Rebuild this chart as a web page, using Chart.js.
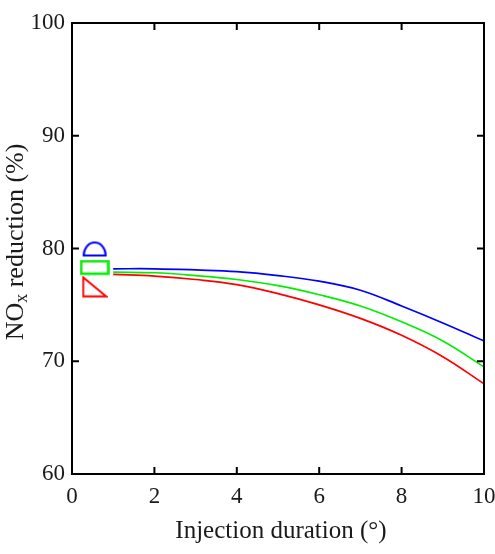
<!DOCTYPE html>
<html>
<head>
<meta charset="utf-8">
<script src="https://cdn.jsdelivr.net/npm/chart.js@4.4.1/dist/chart.umd.min.js"></script>
<style>
  html, body { margin: 0; padding: 0; background: #fff; }
</style>
</head>
<body>
<canvas id="myChart" width="495" height="554"></canvas>
<script>
// injection duration (deg) and NOx reduction (%) for the three curves
const durations = [1, 2, 3, 4, 5, 6, 7, 8, 9, 10];
const blueValues = [78.2, 78.2, 78.1, 77.95, 77.6, 77.1, 76.3, 74.9, 73.4, 71.8];
const greenValues = [77.9, 77.85, 77.6, 77.25, 76.7, 75.9, 74.9, 73.5, 71.8, 69.5];
const redValues = [77.7, 77.55, 77.25, 76.8, 76.0, 75.0, 73.8, 72.3, 70.4, 68.0];

// single symbols near the left edge
const markerX = [0.55];
const blueMarker = [80.0];
const greenMarker = [78.3];
const redMarker = [76.6];

const xTickLabels = ['0', '2', '4', '6', '8', '10'];
const yTickLabels = ['60', '70', '80', '90', '100'];

const FONT = '"Liberation Serif", "DejaVu Serif", serif';
const GREEN = '#00ee00';

function makeDome(color) {
    const c = document.createElement('canvas');
    c.width = 26; c.height = 18;
    const g = c.getContext('2d');
    g.strokeStyle = color;
    g.lineWidth = 2;
    g.beginPath();
    g.ellipse(13, 16, 11, 13, 0, Math.PI, 0);
    g.closePath();
    g.stroke();
    return c;
}

function makeRect(color) {
    const c = document.createElement('canvas');
    c.width = 30; c.height = 16;
    const g = c.getContext('2d');
    g.strokeStyle = color;
    g.lineWidth = 2.5;
    g.strokeRect(1.5, 1.5, 27, 12.5);
    return c;
}

function makeTriangle(color) {
    const c = document.createElement('canvas');
    c.width = 26; c.height = 22;
    const g = c.getContext('2d');
    g.strokeStyle = color;
    g.lineWidth = 2;
    g.beginPath();
    g.moveTo(1.5, 1.5);
    g.lineTo(1.5, 20.5);
    g.lineTo(24.5, 20.5);
    g.closePath();
    g.stroke();
    return c;
}

function toPoints(xs, ys) {
    return xs.map((x, i) => ({ x: x, y: ys[i] }));
}

function lineSet(values, color) {
    return {
        data: toPoints(durations, values),
        borderColor: color,
        borderWidth: 1.7,
        pointRadius: 0,
        tension: 0.4,
        showLine: true,
        fill: false
    };
}

function markerSet(values, color, img) {
    return {
        data: toPoints(markerX, values),
        showLine: false,
        pointStyle: img,
        pointRadius: 10,
        borderColor: color,
        backgroundColor: color
    };
}

// frame, inward ticks, tick labels and axis titles
const framePlugin = {
    id: 'frame',
    afterDraw(chart) {
        const ctx = chart.ctx;
        const a = chart.chartArea;
        const xs = chart.scales.x;
        const ys = chart.scales.y;
        ctx.save();
        ctx.strokeStyle = '#000';
        ctx.lineWidth = 2;
        ctx.strokeRect(a.left, a.top, a.right - a.left, a.bottom - a.top);

        const tl = 7;
        ctx.beginPath();
        xTickLabels.forEach(t => {
            const px = xs.getPixelForValue(Number(t));
            ctx.moveTo(px, a.bottom); ctx.lineTo(px, a.bottom - tl);
            ctx.moveTo(px, a.top); ctx.lineTo(px, a.top + tl);
        });
        yTickLabels.forEach(t => {
            const py = ys.getPixelForValue(Number(t));
            ctx.moveTo(a.left, py); ctx.lineTo(a.left + tl, py);
            ctx.moveTo(a.right, py); ctx.lineTo(a.right - tl, py);
        });
        ctx.stroke();

        ctx.fillStyle = '#1a1a1a';
        ctx.font = '23px ' + FONT;
        ctx.textAlign = 'right';
        ctx.textBaseline = 'middle';
        yTickLabels.forEach(t => {
            ctx.fillText(t, a.left - 7, ys.getPixelForValue(Number(t)));
        });
        ctx.textAlign = 'center';
        xTickLabels.forEach(t => {
            ctx.fillText(t, xs.getPixelForValue(Number(t)), a.bottom + 23);
        });

        // x title
        ctx.font = '25px ' + FONT;
        ctx.textBaseline = 'middle';
        ctx.fillText('Injection duration (\u00B0)', 281, 531);

        // y title with subscript
        ctx.translate(16, 242);
        ctx.rotate(-Math.PI / 2);
        const main1 = 'NO';
        const sub = 'x';
        const main2 = ' reduction (%)';
        ctx.font = '26px ' + FONT;
        const w1 = ctx.measureText(main1).width;
        const w3 = ctx.measureText(main2).width;
        ctx.font = '18px ' + FONT;
        const w2 = ctx.measureText(sub).width;
        const x0 = -(w1 + w2 + w3) / 2;
        ctx.textAlign = 'left';
        ctx.font = '26px ' + FONT;
        ctx.fillText(main1, x0, 0);
        ctx.font = '18px ' + FONT;
        ctx.fillText(sub, x0 + w1, 6);
        ctx.font = '26px ' + FONT;
        ctx.fillText(main2, x0 + w1 + w2, 0);
        ctx.restore();
    }
};

const ctx = document.getElementById('myChart').getContext('2d');
const myChart = new Chart(ctx, {
    type: 'scatter',
    data: {
        datasets: [
            lineSet(blueValues, '#0000ff'),
            lineSet(greenValues, GREEN),
            lineSet(redValues, '#ff0000'),
            markerSet(blueMarker, '#0000ff', makeDome('#0000ff')),
            markerSet(greenMarker, GREEN, makeRect(GREEN)),
            markerSet(redMarker, '#ff0000', makeTriangle('#ff0000'))
        ]
    },
    options: {
        responsive: false,
        animation: false,
        devicePixelRatio: 1,
        layout: { padding: { left: 0, top: 23, right: 7, bottom: 0 } },
        plugins: {
            legend: { display: false },
            tooltip: { enabled: false }
        },
        scales: {
            x: {
                type: 'linear',
                min: 0, max: 10,
                grid: { display: false },
                border: { display: false },
                ticks: { display: false },
                afterFit(scale) { scale.height = 80; }
            },
            y: {
                type: 'linear',
                min: 60, max: 100,
                grid: { display: false },
                border: { display: false },
                ticks: { display: false },
                afterFit(scale) { scale.width = 72; }
            }
        }
    },
    plugins: [framePlugin]
});
</script>
</body>
</html>
